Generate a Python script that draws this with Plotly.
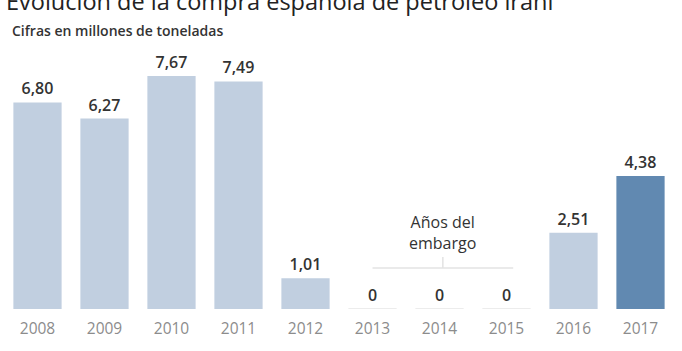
import plotly.graph_objects as go

years = ["2008", "2009", "2010", "2011", "2012", "2013", "2014", "2015", "2016", "2017"]
values = [6.80, 6.27, 7.67, 7.49, 1.01, 0, 0, 0, 2.51, 4.38]
labels = ["6,80", "6,27", "7,67", "7,49", "1,01", "0", "0", "0", "2,51", "4,38"]
colors = ["#c1cfe0"] * 9 + ["#6189b1"]

FONT = "Open Sans"
W, H = 682, 351
T, B = 66, 42  # plot top / bottom margin in px
PH = H - T - B

def py(pix):
    return (H - B - pix) / PH

fig = go.Figure()
fig.add_trace(go.Bar(
    x=years, y=values, marker=dict(color=colors, line=dict(width=0)),
    text=labels, textposition="outside", cliponaxis=False,
    textfont=dict(family=FONT, size=16, color="#333333", weight=600),
    hoverinfo="skip",
))

# thin baseline marks for zero-value years
for i, v in enumerate(values):
    if v == 0:
        fig.add_shape(type="line", xref="x", yref="y", x0=i - 0.36, x1=i + 0.36, y0=0, y1=0,
                      line=dict(color="#e6e6e6", width=1.5))

# embargo bracket
i13, i15 = years.index("2013"), years.index("2015")
fig.add_shape(type="line", xref="x", yref="paper", x0=i13, x1=i15 + 0.1, y0=py(268), y1=py(268),
              line=dict(color="#e3e3e3", width=1.5))
fig.add_shape(type="line", xref="x", yref="paper", x0=(i13 + i15) / 2 + 0.05, x1=(i13 + i15) / 2 + 0.05,
              y0=py(268), y1=py(257), line=dict(color="#e3e3e3", width=1.5))
fig.add_annotation(x=(i13 + i15) / 2 + 0.05, y=py(232), xref="x", yref="paper", yanchor="middle",
                   text="Años del<br>embargo", showarrow=False,
                   font=dict(family=FONT, size=16, color="#333333"), align="center")

fig.add_annotation(x=0, y=py(1), xref="paper", yref="paper", xanchor="left", yanchor="middle",
                   xshift=0,
                   text="Evolución de la compra española de petróleo iraní", showarrow=False,
                   font=dict(family=FONT, size=23.5, color="#222222"))
fig.add_annotation(x=0, y=py(30), xref="paper", yref="paper", xanchor="left", yanchor="middle",
                   xshift=6,
                   text="Cifras en millones de toneladas", showarrow=False,
                   font=dict(family=FONT, size=14, color="#333333", weight=600))

fig.update_layout(
    width=W, height=H, margin=dict(l=4, r=8, t=T, b=B),
    paper_bgcolor="white", plot_bgcolor="white",
    bargap=0.28, showlegend=False,
    xaxis=dict(type="category", showgrid=False, showline=False, zeroline=False, ticks="",
               ticklabelstandoff=8,
               tickfont=dict(family=FONT, size=15.5, color="#8c8c8c")),
    yaxis=dict(range=[0, 8], visible=False, showgrid=False, zeroline=False),
)

fig.write_html("out.html")
